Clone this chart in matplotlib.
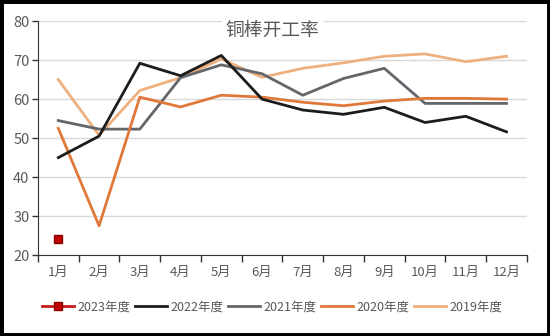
import matplotlib
matplotlib.use('Agg')
import matplotlib.pyplot as plt
from matplotlib.patches import Rectangle

plt.rcParams['font.family'] = ['Noto Sans CJK SC', 'DejaVu Sans']

# 月份与各年度开工率(%)
months = ['1月', '2月', '3月', '4月', '5月', '6月',
          '7月', '8月', '9月', '10月', '11月', '12月']
y2023 = [24.0]
y2022 = [45.0, 50.5, 69.2, 66.0, 71.2, 60.0, 57.2, 56.1, 57.9, 54.0, 55.6, 51.6]
y2021 = [54.5, 52.3, 52.3, 65.5, 68.8, 66.5, 61.0, 65.3, 67.9, 58.9, 58.9, 58.9]
y2020 = [52.5, 27.5, 60.5, 58.0, 61.0, 60.5, 59.2, 58.3, 59.5, 60.2, 60.2, 60.0]
y2019 = [65.0, 50.7, 62.2, 65.5, 70.3, 65.6, 67.9, 69.3, 71.0, 71.6, 69.6, 71.0]

cinza = '#595959'

fig = plt.figure(figsize=(5.5, 3.36), dpi=100)
fig.patches.append(Rectangle((0, 0), 1, 1, transform=fig.transFigure,
                             fill=False, edgecolor='black', linewidth=5))
ax = fig.add_axes([0.069, 0.241, 0.889, 0.696])

x = range(len(months))
ax.plot(x, y2022, color='#1c1c1c', lw=2, label='2022年度', zorder=4)
ax.plot(x, y2021, color='#63666b', lw=2, label='2021年度', zorder=3)
ax.plot(x, y2020, color='#e0783a', lw=2, label='2020年度', zorder=3)
ax.plot(x, y2019, color='#efb07e', lw=2, label='2019年度', zorder=2)
ax.plot(range(len(y2023)), y2023, color='#c81a1a', lw=2, marker='s',
        markersize=6, markerfacecolor='#c00000', markeredgecolor='#8b0000',
        label='2023年度', zorder=5)

ax.set_xlim(-0.5, len(months) - 0.5)
ax.set_ylim(20, 80)
ax.set_yticks(range(20, 81, 10))
ax.set_xticks(x)
ax.set_xticklabels(months)
ax.set_xticks([i - 0.5 for i in range(len(months) + 1)], minor=True)
ax.tick_params(axis='x', which='major', length=0, pad=8,
               labelsize=9.5, labelcolor=cinza)
ax.tick_params(axis='x', which='minor', length=5, width=1, color='#333333')
ax.tick_params(axis='y', length=4, width=1, color='#333333',
               labelsize=10.5, labelcolor=cinza, pad=2)

ax.grid(axis='y', color='#d9d9d9', lw=1)
ax.set_axisbelow(True)
for s in ['top', 'right']:
    ax.spines[s].set_visible(False)
ax.spines['left'].set_color('#333333')
ax.spines['bottom'].set_color('#333333')

ax.text(0.48, 0.96, '铜棒开工率', transform=ax.transAxes, ha='center',
        va='center', fontsize=13.5, color=cinza,
        bbox=dict(facecolor='white', edgecolor='none', pad=3))

handles, labels = ax.get_legend_handles_labels()
order = [4, 0, 1, 2, 3]
fig.legend([handles[i] for i in order], [labels[i] for i in order],
           loc='center', bbox_to_anchor=(0.495, 0.087), ncol=5, frameon=False,
           fontsize=9, handlelength=2.6, handletextpad=0.3,
           columnspacing=0.3, labelcolor=cinza)

fig.savefig('out.png', dpi=100, facecolor='white')
